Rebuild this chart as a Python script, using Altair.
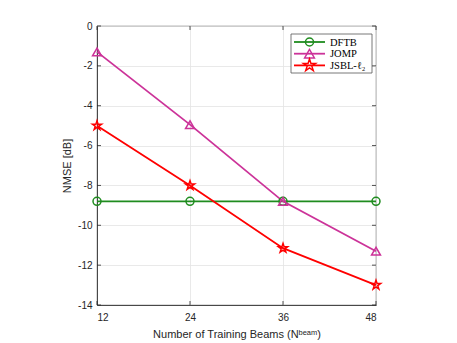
import math
import altair as alt
import pandas as pd

beams = [12, 24, 36, 48]
dftb = [-8.8, -8.8, -8.8, -8.8]
jomp = [-1.3, -4.95, -8.8, -11.3]
jsbl = [-5.0, -8.0, -11.15, -13.0]
series = ["DFTB", "JOMP", "JSBL-ℓ₂"]
colors = ["#1f8c1f", "#cc3399", "#ff0000"]
y_ticks = [0, -2, -4, -6, -8, -10, -12, -14]

# 5-point star path in unit coords
pts = []
for k in range(10):
    ang = math.radians(-90 + 36 * k)
    r = 1.0 if k % 2 == 0 else 0.382
    pts.append(f"{r*math.cos(ang):.3f},{r*math.sin(ang):.3f}")
STAR = "M" + "L".join(pts) + "Z"
shapes = ["circle", "triangle-up", STAR]
sizes = [64, 95, 165]

rows = []
for name, vals in zip(series, [dftb, jomp, jsbl]):
    for b, v in zip(beams, vals):
        rows.append({"beams": b, "nmse": v, "series": name})
df = pd.DataFrame(rows)

W, H = 279, 279
AX = "#262626"

xs = alt.Scale(domain=[12, 48], nice=False, zero=False)
ys = alt.Scale(domain=[-14, 0], nice=False, zero=False)
cs = alt.Scale(domain=series, range=colors)

x_axis = alt.Axis(values=beams, title="Number of Training Beams (Nᵇᵉᵃᵐ)",
                  grid=True, tickSize=0, labelPadding=7, titlePadding=6,
                  labelOverlap=False, labelExpr="toString(datum.value)")
y_axis = alt.Axis(values=y_ticks, title="NMSE [dB]", grid=True, tickSize=0,
                  labelPadding=5, titlePadding=5, labelOverlap=False,
                  labelExpr="toString(datum.value)")


def X(f):
    return alt.X(f, scale=xs, axis=x_axis, title="Number of Training Beams (Nᵇᵉᵃᵐ)")


def Y(f):
    return alt.Y(f, scale=ys, axis=y_axis, title="NMSE [dB]")


lines = alt.Chart(df).mark_line(strokeWidth=1.8).encode(
    x=X("beams:Q"), y=Y("nmse:Q"),
    color=alt.Color("series:N", scale=cs, legend=None),
)
points = alt.Chart(df).mark_point(filled=False, strokeWidth=1.5, opacity=1).encode(
    x=X("beams:Q"), y=Y("nmse:Q"),
    color=alt.Color("series:N", scale=cs, legend=None),
    shape=alt.Shape("series:N", scale=alt.Scale(domain=series, range=shapes), legend=None),
    size=alt.Size("series:N", scale=alt.Scale(domain=series, range=sizes), legend=None),
)

# inward ticks (MATLAB style)
ytdf = pd.DataFrame({"v": y_ticks})
xtdf = pd.DataFrame({"b": beams})
tick_style = dict(color=AX, strokeWidth=0.8)
yt_left = alt.Chart(ytdf).mark_rule(**tick_style).encode(
    y=Y("v:Q"), x=alt.value(0), x2=alt.value(4))
yt_right = alt.Chart(ytdf).mark_rule(**tick_style).encode(
    y=Y("v:Q"), x=alt.value(W - 4), x2=alt.value(W))
xt_bot = alt.Chart(xtdf).mark_rule(**tick_style).encode(
    x=X("b:Q"), y=alt.value(H), y2=alt.value(H - 4))
xt_top = alt.Chart(xtdf).mark_rule(**tick_style).encode(
    x=X("b:Q"), y=alt.value(0), y2=alt.value(4))

# legend
one = alt.Data(values=[{}])
leg_layers = [
    alt.Chart(one).mark_rect(fill="white", stroke="#555555", strokeWidth=0.8).encode(
        x=alt.value(194), x2=alt.value(275), y=alt.value(8), y2=alt.value(47))
]
for i, (name, col, shp, sz) in enumerate(zip(series, colors, shapes, sizes)):
    yy = 16 + i * 11.7
    leg_layers.append(alt.Chart(one).mark_rule(color=col, strokeWidth=1.8).encode(
        x=alt.value(197), x2=alt.value(228), y=alt.value(yy)))
    leg_layers.append(alt.Chart(one).mark_point(filled=False, strokeWidth=1.5, color=col, opacity=1).encode(
        x=alt.value(212.5), y=alt.value(yy), shape=alt.value(shp), size=alt.value(sz)))
    leg_layers.append(alt.Chart(one).mark_text(align="left", baseline="middle",
                                               font="Liberation Serif", fontSize=10.5,
                                               color="black").encode(
        x=alt.value(233), y=alt.value(yy + 0.5), text=alt.value(name)))

chart = alt.layer(lines, points, yt_left, yt_right, xt_bot, xt_top, *leg_layers).properties(
    width=W, height=H,
    autosize=alt.AutoSizeParams(type="none"),
    padding={"left": 89, "top": 18, "right": 73, "bottom": 36},
).configure_axis(
    labelFont="Liberation Sans", titleFont="Liberation Sans",
    labelFontSize=10, titleFontSize=11, labelColor=AX, titleColor=AX,
    titleFontWeight="normal", domainColor=AX, domainWidth=0.8,
    gridColor="#e3e3e3", gridWidth=0.8,
).configure_view(stroke=AX, strokeWidth=0.8)

chart.save("out.html", embed_options={"renderer": "svg", "actions": False})
